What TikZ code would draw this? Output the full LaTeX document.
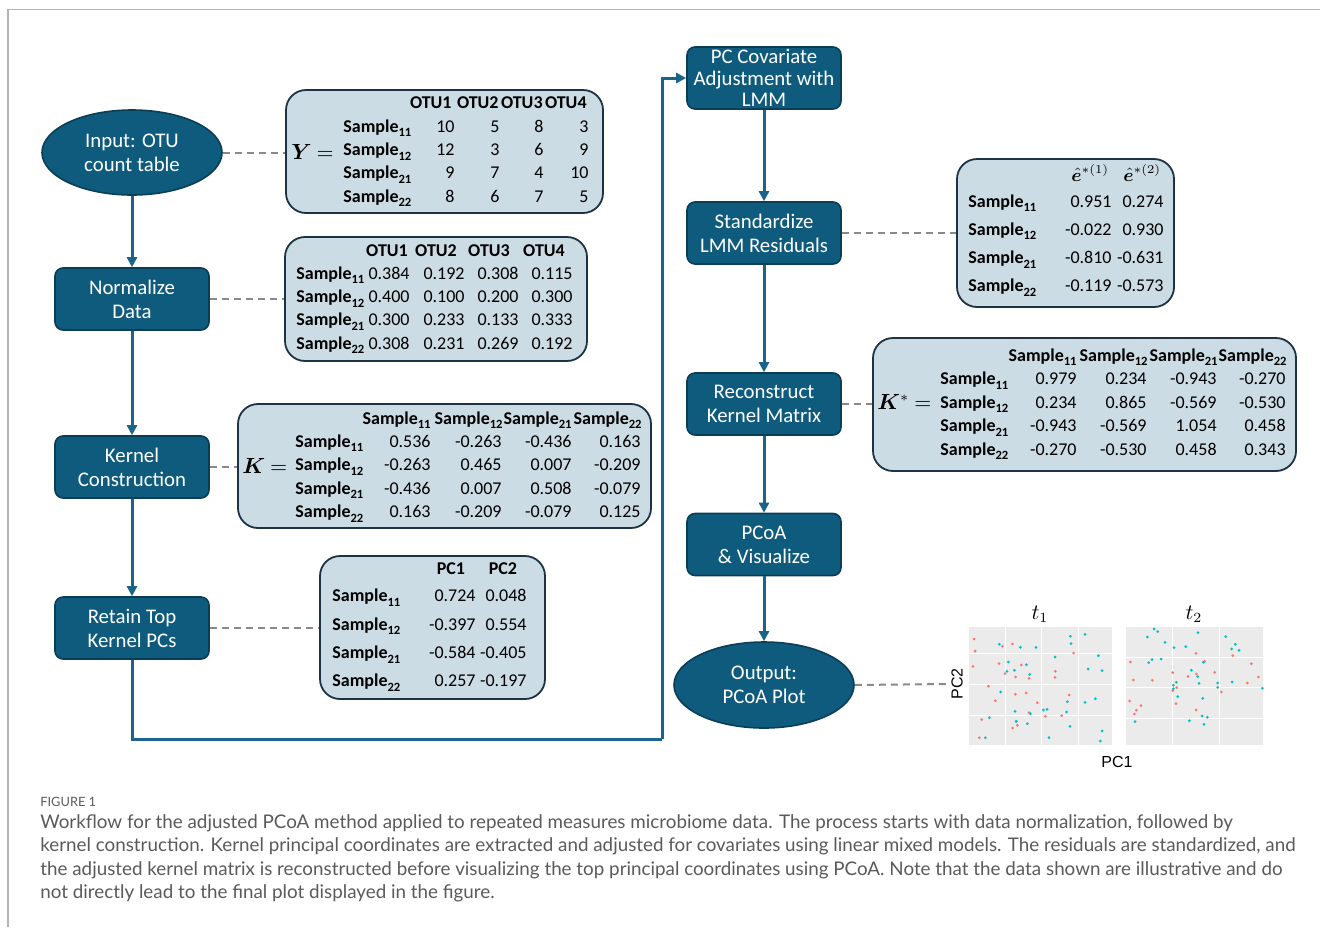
\documentclass[tikz,border=0pt]{standalone}
\usepackage{amsmath}
\usepackage{bm}
\usepackage[no-math]{fontspec}
\setmainfont{Carlito}
\newfontfamily\capfont{Lato}
\newfontfamily\axisfont{Liberation Sans}
\usetikzlibrary{arrows.meta,shapes.geometric}

\definecolor{procfill}{HTML}{0F5B7E}
\definecolor{procdraw}{HTML}{0B3D55}
\definecolor{tabfill}{HTML}{CCDCE5}
\definecolor{tabdraw}{HTML}{1D3344}
\definecolor{flowc}{HTML}{1A6489}
\definecolor{dashc}{HTML}{8A8A8A}
\definecolor{capc}{HTML}{5A5A5A}
\definecolor{framec}{HTML}{B3B3B3}
\definecolor{panelc}{HTML}{EBEBEB}
\definecolor{ptred}{HTML}{F8766D}
\definecolor{ptcyan}{HTML}{00BFC4}

\newcommand\tabfont{\fontsize{9}{10}\selectfont}
\newcommand\smp[1]{Sample\raisebox{-2.3pt}{\fontsize{6.3}{7}\selectfont\bfseries #1}}
\newcommand\eqsign{\mkern4mu{=}}

\tikzset{
  proc/.style={draw=procdraw, line width=0.8pt, fill=procfill, rounded corners=4pt,
    text=white, font=\fontsize{10.4}{12}\selectfont, align=center,
    minimum width=77pt, minimum height=31pt, inner sep=0pt},
  terminal/.style={ellipse, draw=procdraw, line width=0.8pt, fill=procfill,
    text=white, font=\fontsize{10.4}{12}\selectfont, align=center,
    minimum width=90pt, minimum height=42.5pt, inner sep=0pt},
  tabbox/.style={draw=tabdraw, line width=0.9pt, fill=tabfill, rounded corners=10pt, inner sep=0pt},
  flow/.style={draw=flowc, line width=1.5pt, -{Triangle[length=5pt,width=5pt]}},
  loopline/.style={draw=flowc, line width=1.5pt},
  dashline/.style={draw=dashc, line width=1pt, dash pattern=on 3.5pt off 2.5pt},
  rowlab/.style={font=\tabfont\bfseries, anchor=base west, inner sep=0pt},
  numr/.style={font=\tabfont, anchor=base east, inner sep=0pt},
  headr/.style={font=\tabfont\bfseries, anchor=base east, inner sep=0pt},
  headc/.style={font=\tabfont\bfseries, anchor=base, inner sep=0pt},
  headw/.style={font=\fontsize{9}{10}\selectfont, anchor=base west, inner sep=0pt},
  eqlab/.style={font=\fontsize{10.5}{13}\selectfont, anchor=base west, inner sep=0pt},
  capline/.style={font=\capfont\fontsize{9.4}{11}\selectfont, text=capc, anchor=base west, inner sep=0pt},
  axlab/.style={font=\axisfont\fontsize{8}{9}\selectfont, inner sep=0pt},
  grid/.style={white, line width=0.5pt},
}

\begin{document}
\begin{tikzpicture}[x=0.5pt,y=-0.5pt]
\useasboundingbox (0,0) rectangle (1320,927);

% frame
\draw[framec, line width=0.7pt] (8,927) -- (8,9.5) -- (1320,9.5);

% ---------- left column process nodes ----------
\node[terminal] (input) at (132,152.5) {Input: OTU\\count table};
\node[proc] (norm) at (132,299) {Normalize\\Data};
\node[proc] (kern) at (132,467) {Kernel\\Construction};
\node[proc] (retain) at (132,628) {Retain Top\\Kernel PCs};

% ---------- right column process nodes ----------
\node[proc, font=\fontsize{10.4}{10.6}\selectfont] (pccov) at (764,78) {PC Covariate\\Adjustment with\\LMM};
\node[proc] (stand) at (764,233) {Standardize\\LMM Residuals};
\node[proc] (recon) at (764,404) {Reconstruct\\Kernel Matrix};
\node[proc] (pcoa) at (764,544.5) {PCoA\\\& Visualize};
\node[terminal, minimum height=43pt] (output) at (764,685) {Output:\\PCoA Plot};

% ---------- tables ----------
% Y table
\node[tabbox, minimum width=158.5pt, minimum height=61.5pt] (ytab) at (444.5,151.5) {};
\node[eqlab] (yeq) at (291,159) {$\bm{Y}\eqsign$};
\foreach \h/\xr [count=\j] in {OTU1/452,OTU2/499,OTU3/543,OTU4/587}
  \node[headr] (y-h\j) at (\xr,108) {\h};
\foreach \l/\a/\b/\c/\d [count=\i] in {11/10/5/8/3,12/12/3/6/9,21/9/7/4/10,22/8/6/7/5}{
  \pgfmathsetmacro\yy{108.6+23.4*\i}
  \node[rowlab] (y-l\i) at (343,\yy) {\smp{\l}};
  \node[numr] (y-\i-1) at (455,\yy) {\a};
  \node[numr] (y-\i-2) at (500,\yy) {\b};
  \node[numr] (y-\i-3) at (544,\yy) {\c};
  \node[numr] (y-\i-4) at (589,\yy) {\d};
}

% Normalized table
\node[tabbox, minimum width=151pt, minimum height=62pt] (ntab) at (436,299) {};
\foreach \h/\xc [count=\j] in {OTU1/387,OTU2/436,OTU3/489,OTU4/544}
  \node[headc] (n-h\j) at (\xc,256) {\h};
\foreach \l/\a/\b/\c/\d [count=\i] in {11/0.384/0.192/0.308/0.115,12/0.400/0.100/0.200/0.300,21/0.300/0.233/0.133/0.333,22/0.308/0.231/0.269/0.192}{
  \pgfmathsetmacro\yy{255.7+23.4*\i}
  \node[rowlab] (n-l\i) at (296,\yy) {\smp{\l}};
  \node[numr] (n-\i-1) at (410,\yy) {\a};
  \node[numr] (n-\i-2) at (465,\yy) {\b};
  \node[numr] (n-\i-3) at (519,\yy) {\c};
  \node[numr] (n-\i-4) at (573,\yy) {\d};
}

% K table
\node[tabbox, minimum width=206.5pt, minimum height=62pt] (ktab) at (444.5,466) {};
\node[eqlab] (keq) at (242,473) {$\bm{K}\eqsign$};
\foreach \h/\xr [count=\j] in {11/431,12/503,21/572,22/642}
  \node[headr] (k-h\j) at (\xr,424) {\smp{\h}};
\foreach \l/\a/\b/\c/\d [count=\i] in {11/0.536/-0.263/-0.436/0.163,12/-0.263/0.465/0.007/-0.209,21/-0.436/0.007/0.508/-0.079,22/0.163/-0.209/-0.079/0.125}{
  \pgfmathsetmacro\yy{423.5+23.5*\i}
  \node[rowlab] (k-l\i) at (295,\yy) {\smp{\l}};
  \node[numr] (k-\i-1) at (431,\yy) {\a};
  \node[numr] (k-\i-2) at (502,\yy) {\b};
  \node[numr] (k-\i-3) at (572,\yy) {\c};
  \node[numr] (k-\i-4) at (641,\yy) {\d};
}

% PC table
\node[tabbox, minimum width=112.5pt, minimum height=71.5pt] (ptab) at (432.5,627.5) {};
\node[headc] (p-h1) at (451,574) {PC1};
\node[headc] (p-h2) at (503,574) {PC2};
\foreach \l/\a/\b [count=\i] in {11/0.724/0.048,12/-0.397/0.554,21/-0.584/-0.405,22/0.257/-0.197}{
  \pgfmathsetmacro\yy{573.5+28.3*\i}
  \node[rowlab] (p-l\i) at (332,\yy) {\smp{\l}};
  \node[numr] (p-\i-1) at (476,\yy) {\a};
  \node[numr] (p-\i-2) at (527,\yy) {\b};
}

% residual table
\node[tabbox, minimum width=108.5pt, minimum height=74pt] (etab) at (1065.5,233) {};
\node[headw] (e-h1) at (1071,181) {$\hat{\bm{e}}^{*(1)}$};
\node[headw] (e-h2) at (1123,181) {$\hat{\bm{e}}^{*(2)}$};
\foreach \l/\a/\b [count=\i] in {11/0.951/0.274,12/-0.022/0.930,21/-0.810/-0.631,22/-0.119/-0.573}{
  \pgfmathsetmacro\yy{178.7+28.3*\i}
  \node[rowlab] (e-l\i) at (968,\yy) {\smp{\l}};
  \node[numr] (e-\i-1) at (1112,\yy) {\a};
  \node[numr] (e-\i-2) at (1164,\yy) {\b};
}

% K* table
\node[tabbox, minimum width=211.5pt, minimum height=66.5pt] (kstab) at (1084.5,404.5) {};
\node[eqlab] (kseq) at (877,409) {$\bm{K}^{*}\eqsign$};
\foreach \h/\xr [count=\j] in {11/1077,12/1148,21/1218,22/1287}
  \node[headr] (ks-h\j) at (\xr,361) {\smp{\h}};
\foreach \l/\a/\b/\c/\d [count=\i] in {11/0.979/0.234/-0.943/-0.270,12/0.234/0.865/-0.569/-0.530,21/-0.943/-0.569/1.054/0.458,22/-0.270/-0.530/0.458/0.343}{
  \pgfmathsetmacro\yy{361.5+23.4*\i}
  \node[rowlab] (ks-l\i) at (940,\yy) {\smp{\l}};
  \node[numr] (ks-\i-1) at (1077,\yy) {\a};
  \node[numr] (ks-\i-2) at (1147,\yy) {\b};
  \node[numr] (ks-\i-3) at (1217,\yy) {\c};
  \node[numr] (ks-\i-4) at (1286,\yy) {\d};
}

% ---------- PCoA plot ----------
\fill[panelc] (969,627) rectangle (1112,745);
\fill[panelc] (1126,627) rectangle (1263,745);
\foreach \gx in {1005,1041,1078} \draw[grid] (\gx,627) -- (\gx,745);
\foreach \gy in {653,684,715} \draw[grid] (969,\gy) -- (1112,\gy);
\foreach \gx in {1172,1219} \draw[grid] (\gx,627) -- (\gx,745);
\foreach \gy in {657,687,718} \draw[grid] (1126,\gy) -- (1263,\gy);

\foreach \px/\py in {72/117,75/153,69/199,187/132,157/139,147/191,214/195,165/221,197/231,237/235,115/259,136/302,196/283,228/279,262/308,237/338,198/365,188/384,202/376,95/359,88/413,286/349,335/347,357/285,316/214,315/232,371/159,
  541/186,550/240,607/241,539/303,573/317,559/331,553/342,668/218,714/229,739/222,738/160,764/184,668/272,680/263,678/311,738/330,794/217,814/276,892/249,904/191,925/231,848/167}
  \fill[ptred] ({950+\px/3},{600+\py/3}) circle[radius=0.75pt];
\foreach \px/\py in {148/133,211/142,258/142,175/186,229/194,193/211,171/214,239/223,152/276,118/353,195/334,241/341,199/364,232/371,280/330,291/328,297/413,106/413,361/109,363/131,405/103,315/171,445/167,414/207,456/212,352/305,405/307,436/296,350/336,360/379,456/393,451/423,
  612/87,623/95,592/111,645/127,744/98,672/143,707/140,760/187,633/177,606/179,596/188,724/211,743/230,747/250,670/256,679/247,670/266,683/290,758/295,718/362,756/348,772/352,762/373,803/249,803/262,846/246,937/265,827/110,845/147,856/133,867/151,555/365}
  \fill[ptcyan] ({950+\px/3},{600+\py/3}) circle[radius=0.75pt];

\node[font=\fontsize{10.5}{12}\selectfont, inner sep=0pt] (t1) at (1040,614) {$t_1$};
\node[font=\fontsize{10.5}{12}\selectfont, inner sep=0pt] (t2) at (1194,614) {$t_2$};
\node[axlab, rotate=90] (pc2) at (957,684) {PC2};
\node[axlab] (pc1) at (1117,762) {PC1};
\coordinate (plotin) at (950,684);

% ---------- connectors ----------
\draw[flow] (input.south) -- (norm.north);
\draw[flow] (norm.south) -- (kern.north);
\draw[flow] (kern.south) -- (retain.north);
\coordinate (loopc) at (662,739);
\draw[loopline] (retain.south) |- (loopc);
\draw[flow] (loopc) |- (pccov.west);
\draw[flow] (pccov.south) -- (stand.north);
\draw[flow] (stand.south) -- (recon.north);
\draw[flow] (recon.south) -- (pcoa.north);
\draw[flow] (pcoa.south) -- (output.north);

\draw[dashline] (input.east) -- (input.east -| ytab.west);
\draw[dashline] (norm.east) -- (norm.east -| ntab.west);
\draw[dashline] (kern.east) -- (kern.east -| ktab.west);
\draw[dashline] (retain.east) -- (retain.east -| ptab.west);
\draw[dashline] (stand.east) -- (stand.east -| etab.west);
\draw[dashline] (recon.east) -- (recon.east -| kstab.west);
\draw[dashline] (output.east) -- (plotin);

% ---------- caption ----------
\node[capline, font=\capfont\fontsize{6.4}{8}\selectfont] (figlab) at (40,806) {FIGURE 1};
\node[capline] (cap1) at (40,828) {Workflow for the adjusted PCoA method applied to repeated measures microbiome data. The process starts with data normalization, followed by};
\node[capline] (cap2) at (40,851.5) {kernel construction. Kernel principal coordinates are extracted and adjusted for covariates using linear mixed models. The residuals are standardized, and};
\node[capline] (cap3) at (40,875) {the adjusted kernel matrix is reconstructed before visualizing the top principal coordinates using PCoA. Note that the data shown are illustrative and do};
\node[capline] (cap4) at (40,898.5) {not directly lead to the final plot displayed in the figure.};
\end{tikzpicture}
\end{document}
